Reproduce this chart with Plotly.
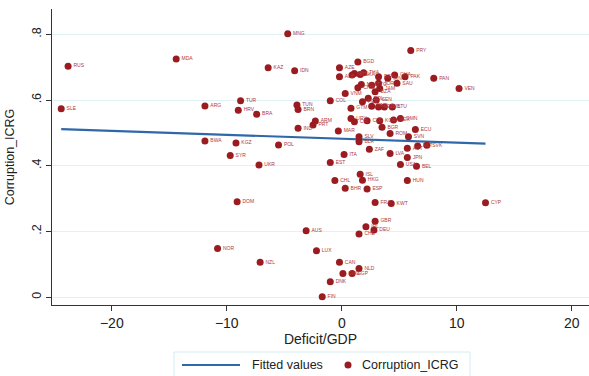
import plotly.graph_objects as go

# Country codes, budget balance (% of GDP) and ICRG corruption index
countries = [
    "RUS", "SLE", "MDA", "MNG", "KAZ", "IDN", "BGD", "AZE", "ALB", "NIC",
    "PHL", "LKA", "THA", "EGY", "IRN", "GHA", "PAK", "SAU", "MYS", "JOR",
    "JAM", "TTO", "CHN", "VNM", "DZA", "PER", "BOL", "SEN", "HND", "KEN",
    "ZMB", "LTU", "GTM", "COL", "ARG", "TUR", "HRV", "BRA", "TUN", "BRN",
    "IND", "ARM", "PRT", "MAR", "URY", "CRI", "CZE", "KOR", "MEX", "OMN",
    "BGR", "ROM", "SLV", "BLR", "ZAF", "LVA", "ITA", "MLT", "SVK", "ECU",
    "SVN", "AUT", "JPN", "USA", "BEL", "HUN", "EST", "CHL", "ISL", "HKG",
    "BHR", "ESP", "FRA", "KWT", "CYP", "UKR", "BWA", "KGZ", "POL", "SYR",
    "DOM", "NOR", "NZL", "AUS", "LUX", "CAN", "NLD", "SWE", "SGP", "DNK",
    "FIN", "GBR", "IRL", "DEU", "CHE", "PRY", "PAN", "VEN",
]
deficit_gdp = [
    -23.8, -24.4, -14.4, -4.7, -6.4, -4.1, 1.4, -0.2, -0.2, 0.9,
    1.1, 1.6, 1.9, 3.2, 4.0, 4.6, 5.5, 4.8, 1.7, 3.2,
    3.3, 2.6, 1.4, 0.3, 2.9, 1.8, 2.3, 3.0, 2.6, 3.2,
    3.7, 4.4, 0.8, -1.0, -11.9, -8.8, -9.0, -7.4, -3.9, -3.8,
    -3.8, -2.3, -2.5, -0.3, 0.8, 1.1, 2.2, 3.3, 4.5, 5.1,
    3.5, 4.2, 1.5, 1.5, 2.4, 4.2, 0.2, 6.6, 7.4, 6.4,
    5.8, 5.7, 5.7, 5.1, 6.5, 5.7, -1.0, -0.6, 1.6, 1.8,
    0.3, 2.2, 2.9, 4.3, 12.5, -7.2, -11.9, -9.2, -5.5, -9.7,
    -9.1, -10.8, -7.1, -3.1, -2.2, -0.2, 1.5, 0.1, 0.9, -1.0,
    -1.7, 2.9, 2.1, 2.8, 1.5, 6.0, 8.0, 10.2,
]
corruption_icrg = [
    0.703, 0.573, 0.725, 0.802, 0.698, 0.689, 0.716, 0.698, 0.671, 0.676,
    0.681, 0.678, 0.683, 0.671, 0.666, 0.676, 0.671, 0.651, 0.647, 0.651,
    0.635, 0.645, 0.637, 0.620, 0.625, 0.595, 0.605, 0.600, 0.581, 0.579,
    0.579, 0.579, 0.575, 0.598, 0.582, 0.598, 0.569, 0.557, 0.585, 0.571,
    0.514, 0.536, 0.524, 0.506, 0.544, 0.534, 0.537, 0.537, 0.539, 0.544,
    0.517, 0.498, 0.488, 0.473, 0.450, 0.437, 0.434, 0.460, 0.462, 0.510,
    0.488, 0.453, 0.425, 0.404, 0.398, 0.355, 0.410, 0.355, 0.374, 0.356,
    0.331, 0.329, 0.288, 0.285, 0.287, 0.402, 0.475, 0.469, 0.463, 0.431,
    0.290, 0.148, 0.106, 0.202, 0.141, 0.106, 0.087, 0.072, 0.072, 0.047,
    0.001, 0.231, 0.214, 0.204, 0.192, 0.751, 0.666, 0.635,
]

# Linear prediction: intercept and slope of the fitted line
fit_coef = [0.482, -0.0012]

x_ticks = [-20, -10, 0, 10, 20]
y_ticks = [0, 0.2, 0.4, 0.6, 0.8]
y_tick_text = ["0", ".2", ".4", ".6", ".8"]

fit_x = [min(deficit_gdp), max(deficit_gdp)]
fit_y = [fit_coef[0] + fit_coef[1] * v for v in fit_x]

MARKER = "#9b1c20"
LINE = "#2f68a8"
FONT = "Liberation Sans, Arial, sans-serif"

fig = go.Figure()
fig.add_trace(go.Scatter(
    x=fit_x, y=fit_y, mode="lines", name="Fitted values",
    line=dict(color=LINE, width=2.2), showlegend=False,
))
fig.add_trace(go.Scatter(
    x=deficit_gdp, y=corruption_icrg, mode="markers+text", name="Corruption_ICRG",
    text=countries, textposition="middle right",
    textfont=dict(size=5, color="#b0383c", family=FONT),
    marker=dict(color=MARKER, size=7), showlegend=False,
))

# Legend box below the plot, drawn in paper coordinates
def px_x(p):
    return (p - 52) / 537.0

def px_y(p):
    return (305 - p) / 296.0

leg_y = px_y(365)
shapes = [
    dict(type="rect", xref="paper", yref="paper",
         x0=px_x(174), x1=px_x(470), y0=px_y(380), y1=px_y(352),
         line=dict(color="#d4ebee", width=1), fillcolor="white", layer="below"),
    dict(type="line", xref="paper", yref="paper",
         x0=px_x(182), x1=px_x(240), y0=leg_y, y1=leg_y,
         line=dict(color=LINE, width=2.2)),
    dict(type="circle", xref="paper", yref="paper",
         x0=px_x(344.5), x1=px_x(351.5), y0=px_y(368.5), y1=px_y(361.5),
         line=dict(color=MARKER, width=0), fillcolor=MARKER),
]
annotations = [
    dict(text="Fitted values", xref="paper", yref="paper", x=px_x(250), y=leg_y,
         xanchor="left", yanchor="middle", showarrow=False, font=dict(size=12.5)),
    dict(text="Corruption_ICRG", xref="paper", yref="paper", x=px_x(360), y=leg_y,
         xanchor="left", yanchor="middle", showarrow=False, font=dict(size=12.5)),
]

fig.update_layout(
    width=589, height=376,
    margin=dict(l=52, r=0, t=9, b=71, autoexpand=False),
    paper_bgcolor="white", plot_bgcolor="white",
    font=dict(family=FONT, color="#222222", size=13),
    showlegend=False,
    shapes=shapes, annotations=annotations,
)
fig.update_xaxes(
    range=[-25.2, 21.5], tickvals=x_ticks, showgrid=False, zeroline=False,
    showline=True, linecolor="#333333", linewidth=1.2,
    ticks="outside", ticklen=5, tickcolor="#333333",
    tickfont=dict(size=14), title=dict(text="Deficit/GDP", font=dict(size=14), standoff=3),
)
fig.update_yaxes(
    range=[-0.024, 0.877], tickvals=y_ticks, ticktext=y_tick_text, tickangle=-90,
    showgrid=True, gridcolor="#dff2f4", gridwidth=1, zeroline=False,
    showline=True, linecolor="#333333", linewidth=1.2,
    ticks="outside", ticklen=5, tickcolor="#333333",
    tickfont=dict(size=12.5), title=dict(text="Corruption_ICRG", font=dict(size=12.5), standoff=12),
)

fig.write_html("out.html")
